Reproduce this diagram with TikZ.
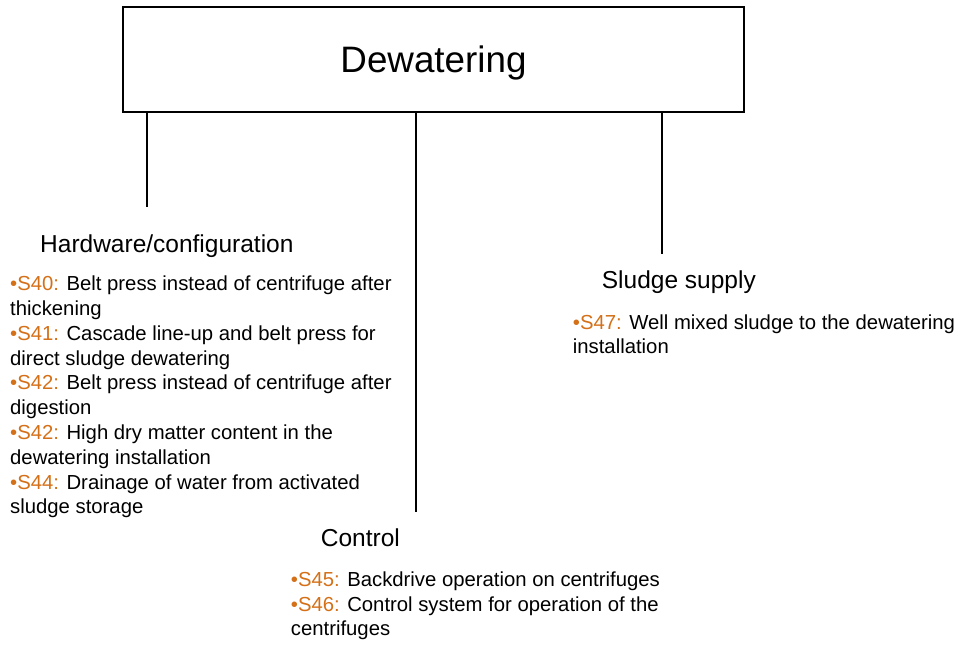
\documentclass[tikz,border=0pt]{standalone}
\usepackage{fontspec}
\setmainfont{Liberation Sans}
\usetikzlibrary{positioning}
\definecolor{sorange}{RGB}{212,112,24}
\newcommand{\sno}[1]{{\color{sorange}\textbullet #1:}}

\begin{document}
\begin{tikzpicture}
    [x=1pt,y=-1pt,
     title/.style={draw,line width=1.2pt,minimum width=621pt,minimum height=105pt,
                   text depth=0pt,inner sep=0pt,font=\fontsize{36.8}{40}\selectfont},
     head/.style={anchor=base west,inner sep=0pt,font=\fontsize{24.5}{29}\selectfont},
     item/.style={anchor=base west,inner sep=0pt,align=left,
                  font=\fontsize{20.3}{24.8}\selectfont}]
    \useasboundingbox (0,0) rectangle (961,646);

    % Top box
    \node (dewat) at (433.5, 59.5) [title] {Dewatering};

    % Hardware (placed by the baseline of its last line)
    \node (hw) at (40, 252.3) [head] {Hardware/configuration};
    \node (hwlist) at (10, 513.9) [item]
    {\sno{S40} Belt press instead of centrifuge after\\
     thickening\\
     \sno{S41} Cascade line-up and belt press for\\
     direct sludge dewatering\\
     \sno{S42} Belt press instead of centrifuge after\\
     digestion\\
     \sno{S42} High dry matter content in the\\
     dewatering installation\\
     \sno{S44} Drainage of water from activated\\
     sludge storage};

    % Control
    \node (ctrl) at (320.7, 546.7) [head] {Control};
    \node (ctrllist) at (290.7, 635.9) [item]
    {\sno{S45} Backdrive operation on centrifuges\\
     \sno{S46} Control system for operation of the\\
     centrifuges};

    % Sludge supply
    \node (sup) at (601.7, 288.3) [head] {Sludge supply};
    \node (suplist) at (572.7, 353.8) [item]
    {\sno{S47} Well mixed sludge to the dewatering\\
     installation};

    % Branches
    \coordinate (hwend) at (147, 207);
    \coordinate (ctrlend) at (416, 512);
    \coordinate (supend) at (662, 254);
    \draw [line width=1.2pt] (dewat.south -| hwend) -- (hwend);
    \draw [line width=1.2pt] (dewat.south -| ctrlend) -- (ctrlend);
    \draw [line width=1.2pt] (dewat.south -| supend) -- (supend);
\end{tikzpicture}
\end{document}
